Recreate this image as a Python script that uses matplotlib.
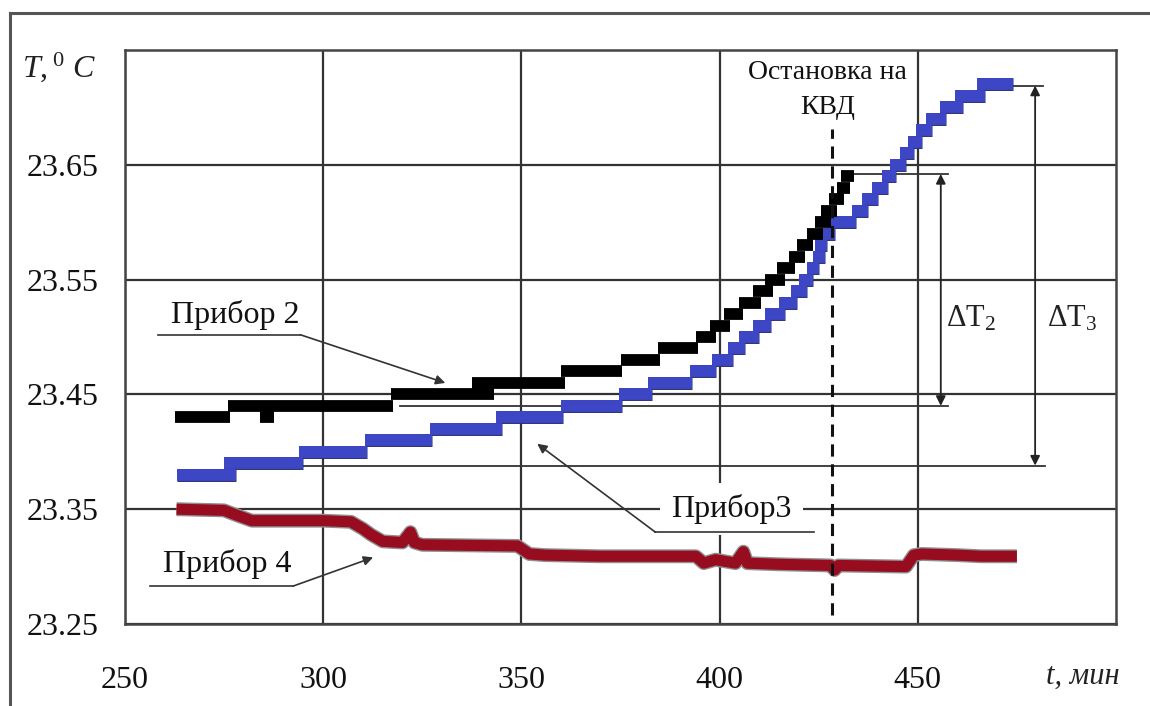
import matplotlib
matplotlib.use("Agg")
import matplotlib.pyplot as plt
import matplotlib.patheffects as pe
from matplotlib.lines import Line2D

plt.rcParams['font.family'] = ['Liberation Serif', 'DejaVu Serif']
plt.rcParams['mathtext.fontset'] = 'custom'
plt.rcParams['mathtext.rm'] = 'Liberation Serif'
plt.rcParams['mathtext.it'] = 'Liberation Serif:italic'

# ---- data ----
x_ticks = [250, 300, 350, 400, 450]
y_ticks = [23.25, 23.35, 23.45, 23.55, 23.65]

# Прибор 2 (black) : level segments  t_start, t_end, T
p2_t0 = [262.5, 276, 284, 317, 337.5, 360, 375, 384.5, 394, 397.5, 401, 405, 408.5, 411.5, 414.5,
         417.5, 419.5, 422, 424, 425.5, 427.5, 429.5, 430.5]
p2_t1 = [276.5, 317.5, 287.5, 343, 361, 375.5, 385, 394.5, 399, 402.5, 406, 410.5, 413.5, 416.5, 419,
         421.5, 423.5, 426, 428, 429.5, 431.5, 433, 434]
p2_T = [23.43, 23.44, 23.43, 23.45, 23.46, 23.47, 23.48, 23.49, 23.50, 23.51, 23.52, 23.53, 23.54,
        23.55, 23.56, 23.57, 23.58, 23.59, 23.60, 23.61, 23.62, 23.63, 23.64]

# Прибор 3 (blue)
p3_t0 = [263, 275, 294, 310.5, 327, 343.5, 360, 374.5, 382, 392.5, 398, 402, 405, 408.5, 411.5,
         415, 418, 420, 422, 423.5, 424, 425, 427.5, 433.5, 436, 438.5, 441, 443, 445.5,
         447.5, 449.5, 452, 455.5, 459.5, 465]
p3_t1 = [278, 295, 311, 327.5, 345, 360.5, 375.5, 383, 393, 399, 403.5, 406.5, 410, 413, 416.5, 419.5,
         422, 423.5, 425, 426.5, 427, 429, 434.5, 437.5, 440, 442.5, 444.5, 447, 449, 451, 453.5,
         457, 461.5, 467, 474]
p3_T = [23.38, 23.39, 23.40, 23.41, 23.42, 23.43, 23.44, 23.45, 23.46, 23.47, 23.48, 23.49, 23.50,
        23.51, 23.52, 23.53, 23.54, 23.55, 23.56, 23.57, 23.58, 23.59, 23.60, 23.61, 23.62, 23.63,
        23.64, 23.65, 23.66, 23.67, 23.68, 23.69, 23.70, 23.71, 23.72]

# Прибор 4 (dark red)
p4_t = [263, 275, 278, 282, 300, 307, 310, 312, 315, 320, 322, 323, 325, 349, 352, 356, 370, 394,
        396, 399, 404, 406, 407, 415, 428, 429, 430, 447, 449, 451, 460, 466, 475]
p4_T = [23.350, 23.349, 23.345, 23.340, 23.340, 23.339, 23.333, 23.328, 23.322, 23.321, 23.330,
        23.321, 23.319, 23.318, 23.311, 23.310, 23.309, 23.309, 23.303, 23.306, 23.303, 23.313,
        23.303, 23.302, 23.301, 23.297, 23.301, 23.300, 23.310, 23.311, 23.310, 23.309, 23.309]

t_stop = 428.3
dT2_top, dT2_bot = 23.642, 23.44
dT3_top, dT3_bot = 23.719, 23.388

# ---- figure ----
fig = plt.figure(figsize=(11.5, 7.06), dpi=100)
ax = fig.add_axes([125/1150, 1 - 624/706, (1116-125)/1150, (624-50)/706])
ax.set_xlim(250, 500)
ax.set_ylim(23.25, 23.75)
ax.set_xticks(x_ticks)
ax.set_yticks(y_ticks)
ax.set_xticklabels([str(v) for v in x_ticks])
ax.set_yticklabels([f"{v:.2f}" for v in y_ticks])
ax.tick_params(length=0, labelsize=23, colors='#111111')
ax.tick_params(axis='x', pad=30)
ax.tick_params(axis='y', pad=19)
ax.grid(True, color='#333333', lw=1.6)
ax.set_axisbelow(True)
for s in ax.spines.values():
    s.set_color('#444444')
    s.set_linewidth(1.8)

# annotation lines (under data)
kw = dict(color='#333333', lw=1.3, zorder=2)
ax.plot([434, 457.6], [dT2_top, dT2_top], **kw)
ax.plot([319.5, 457.6], [dT2_bot, dT2_bot], **kw)
ax.plot([474, 481.5], [dT3_top, dT3_top], **kw)
ax.plot([295, 482], [dT3_bot, dT3_bot], **kw)
ax.annotate('', xy=(455.8, dT2_top), xytext=(455.8, dT2_bot),
            arrowprops=dict(arrowstyle='<|-|>', color='#222222', lw=1.3,
                            mutation_scale=14, shrinkA=0, shrinkB=0), zorder=2)
ax.annotate('', xy=(479.6, dT3_top), xytext=(479.6, dT3_bot),
            arrowprops=dict(arrowstyle='<|-|>', color='#222222', lw=1.3,
                            mutation_scale=14, shrinkA=0, shrinkB=0), zorder=2)
ax.text(463.5, 23.516, r'ΔT$_2$', fontsize=22, ha='center', va='center', color='#222222')
ax.text(489.0, 23.516, r'ΔT$_3$', fontsize=22, ha='center', va='center', color='#222222')

# data
ax.plot(p4_t, p4_T, color='#8f8f8f', lw=10, zorder=3, solid_capstyle='butt',
        solid_joinstyle='round')
ax.plot(p4_t, p4_T, color='#980c20', lw=8, zorder=3.1, solid_capstyle='butt',
        solid_joinstyle='round')
bl = ax.hlines(p3_T, p3_t0, p3_t1, colors='#3d47c6', lw=8.5, zorder=4, capstyle='butt')
bl.set_path_effects([pe.Stroke(linewidth=9.3, foreground='#2a2f70'), pe.Normal()])
ax.hlines(p2_T, p2_t0, p2_t1, colors='#000000', lw=8.5, zorder=5, capstyle='butt')

# stop line
ax.plot([t_stop, t_stop], [23.258, 23.681], color='#111111', lw=2.2, ls=(0, (4, 2.5)), zorder=6)
ax.text(427.3, 23.730, 'Остановка на', fontsize=20, ha='center', va='center', color='#111111')
ax.text(427.3, 23.700, 'КВД', fontsize=20, ha='center', va='center', color='#111111')

# labels
lkw = dict(color='#333333', lw=1.2, zorder=7)
ax.text(261.5, 23.519, 'Прибор 2', fontsize=23, ha='left', va='center', color='#111111', zorder=7)
ax.plot([258.3, 294.2], [23.502, 23.502], **lkw)
ax.annotate('', xy=(330.8, 23.460), xytext=(294.2, 23.502),
            arrowprops=dict(arrowstyle='-|>', color='#333333', lw=1.2, mutation_scale=14,
                            shrinkA=0, shrinkB=0), zorder=7)

ax.text(403.0, 23.350, 'Прибор3', fontsize=23, ha='center', va='center', color='#111111', zorder=7,
        bbox=dict(boxstyle='square,pad=0.35', fc='white', ec='none'))
ax.plot([383.8, 423.7], [23.330, 23.330], **lkw)
ax.annotate('', xy=(354.0, 23.407), xytext=(383.8, 23.330),
            arrowprops=dict(arrowstyle='-|>', color='#333333', lw=1.2, mutation_scale=14,
                            shrinkA=0, shrinkB=0), zorder=7)

ax.text(259.5, 23.302, 'Прибор 4', fontsize=23, ha='left', va='center', color='#111111', zorder=7)
ax.plot([256.3, 292.4], [23.283, 23.283], **lkw)
ax.annotate('', xy=(312.6, 23.308), xytext=(292.4, 23.283),
            arrowprops=dict(arrowstyle='-|>', color='#333333', lw=1.2, mutation_scale=14,
                            shrinkA=0, shrinkB=0), zorder=7)

# axis titles
fig.text(22/1150, 1 - 67/706, r'$T,^{0}\ C$', fontsize=23, ha='left', va='center', color='#222222')
fig.text(1120/1150, 1 - 676/706, 't, мин', fontsize=22, style='italic', ha='right', va='center',
         color='#222222')

# outer frame
fig.add_artist(Line2D([10/1150, 10/1150], [0, 1 - 13/706], transform=fig.transFigure,
                      color='#555555', lw=2.2))
fig.add_artist(Line2D([10/1150, 1], [1 - 13/706, 1 - 13/706], transform=fig.transFigure,
                      color='#555555', lw=2.2))

fig.savefig('out.png', dpi=100)
